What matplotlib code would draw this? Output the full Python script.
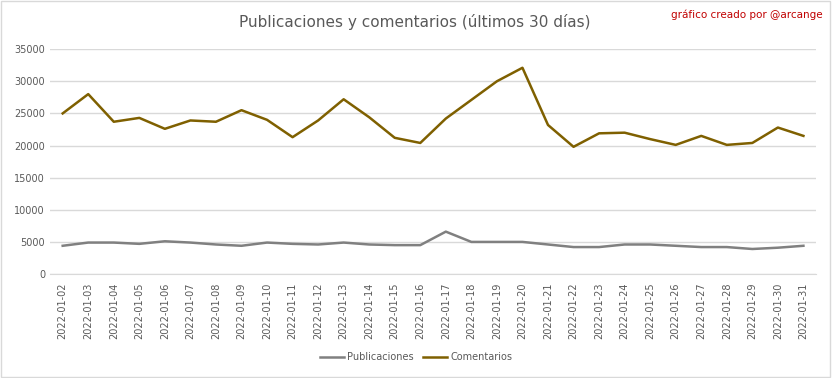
import matplotlib.pyplot as plt
from matplotlib.patches import Rectangle

dates = ['2022-01-%02d' % d for d in range(2, 32)]
publicaciones = [4400, 4900, 4900, 4700, 5100, 4900, 4600, 4400, 4900, 4700,
                 4600, 4900, 4600, 4500, 4500, 6600, 5000, 5000, 5000, 4600,
                 4200, 4200, 4600, 4600, 4400, 4200, 4200, 3900, 4100, 4400]
comentarios = [25000, 28000, 23700, 24300, 22600, 23900, 23700, 25500, 24000, 21300,
               23900, 27200, 24400, 21200, 20400, 24200, 27100, 30000, 32100, 23200,
               19800, 21900, 22000, 21000, 20100, 21500, 20100, 20400, 22800, 21500]

txt = '#595959'
fig = plt.figure(figsize=(8.32, 3.78), dpi=100)
ax = fig.add_axes([0.060, 0.275, 0.921, 0.595])

x = range(len(dates))
ax.plot(x, publicaciones, color='#808080', lw=1.8, label='Publicaciones')
ax.plot(x, comentarios, color='#7F6000', lw=1.8, label='Comentarios')

ax.set_ylim(0, 35000)
ax.set_yticks(range(0, 35001, 5000))
ax.set_xlim(-0.5, len(dates) - 0.5)
ax.set_xticks(list(x))
ax.set_xticklabels(dates, rotation=90)
ax.tick_params(length=0, colors=txt, labelsize=7)
ax.tick_params(axis='x', pad=6)
ax.grid(axis='y', color='#d9d9d9', lw=1)
ax.set_axisbelow(True)
for s in ['top', 'left', 'right']:
    ax.spines[s].set_visible(False)
ax.spines['bottom'].set_color('#d9d9d9')

fig.text(0.499, 0.942, 'Publicaciones y comentarios (últimos 30 días)',
         ha='center', va='center', fontsize=11, color=txt)
fig.text(0.989, 0.962, 'gráfico creado por @arcange', ha='right', va='center',
         fontsize=7.5, color='#C00000')

fig.legend(loc='center', bbox_to_anchor=(0.5, 0.055), ncol=2, frameon=False,
           fontsize=7, labelcolor=txt, handlelength=2.5, columnspacing=1.0,
           handletextpad=0.3)

fig.patches.append(Rectangle((0.001, 0.002), 0.997, 0.995, transform=fig.transFigure,
                             fill=False, edgecolor='#d9d9d9', lw=1))

fig.savefig('out.png', dpi=100)
